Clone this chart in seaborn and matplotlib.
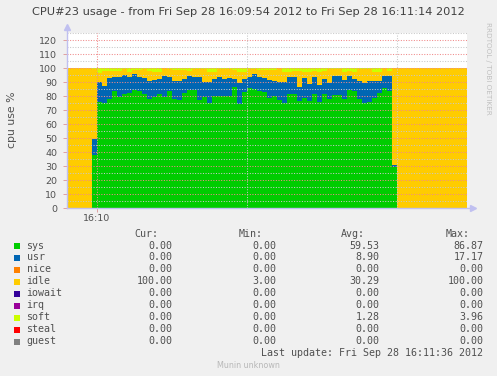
import numpy as np
import pandas as pd
import matplotlib
matplotlib.use("Agg")
import matplotlib.pyplot as plt
import seaborn as sns

# ---------------- data (one sample per second, 16:09:54 .. 16:11:13) ----------------
seconds = list(range(80))

sys_vals = [0, 0, 0, 0, 0,
            38.0, 75.7, 75.0, 78.0, 83.6, 79.0, 81.7, 82.0, 84.5, 83.6,
            81.4, 78.0, 79.0, 81.7, 79.5, 83.6, 78.0, 77.4, 82.0, 84.5,
            84.5, 77.4, 79.3, 75.2, 80.0, 80.2, 80.2, 80.2, 86.4, 74.5,
            83.0, 85.5, 85.0, 83.8, 82.6, 78.8, 80.2, 77.4, 75.2, 81.7,
            81.7, 76.6, 78.8, 76.6, 81.7, 75.9, 81.7, 78.1, 80.7, 80.7,
            78.1, 84.3, 83.6, 78.1, 75.2, 75.9, 78.8, 82.1, 85.7, 83.8,
            29.0,
            0, 0, 0, 0, 0, 0, 0, 0, 0, 0, 0, 0, 0, 0]

usr_vals = [0, 0, 0, 0, 0,
            11.3, 14.3, 12.4, 14.6, 9.7, 14.3, 13.5, 11.3, 11.0, 10.2,
            11.7, 12.7, 12.4, 10.2, 14.8, 10.2, 12.7, 13.3, 9.9, 9.8,
            9.3, 16.4, 10.7, 14.8, 11.9, 13.4, 11.7, 12.7, 5.5, 14.8,
            8.9, 8.3, 10.5, 9.5, 10.0, 12.6, 10.5, 12.4, 14.6, 11.6,
            11.6, 10.1, 13.8, 12.0, 11.6, 12.0, 10.2, 11.4, 13.6, 13.6,
            13.3, 10.0, 8.3, 12.8, 14.3, 14.8, 11.9, 8.6, 8.6, 10.5,
            2.0,
            0, 0, 0, 0, 0, 0, 0, 0, 0, 0, 0, 0, 0, 0]

idle_vals = [100, 100, 100, 100, 100,
             49.7, 6.5, 10.2, 5.4, 4.7, 4.7, 3.8, 3.7, 3.0, 5.0,
             5.9, 7.1, 5.6, 5.1, 5.7, 5.2, 7.8, 7.8, 6.6, 3.7,
             5.2, 5.2, 9.0, 7.0, 5.1, 5.4, 7.1, 6.1, 6.9, 7.7,
             5.6, 5.2, 3.7, 5.2, 5.9, 7.1, 7.8, 10.2, 7.7, 4.2,
             4.7, 11.3, 4.4, 8.4, 4.7, 9.6, 6.1, 9.5, 4.7, 4.7,
             5.6, 3.3, 5.1, 8.1, 9.5, 8.3, 6.8, 6.8, 5.7, 3.7,
             69.0,
             100, 100, 100, 100, 100, 100, 100, 100, 100, 100, 100, 100, 100, 100]

soft_vals = [0, 0, 0, 0, 0,
             1.0, 3.5, 2.4, 2.0, 2.0, 2.0, 1.0, 3.0, 1.5, 1.2,
             1.0, 2.2, 3.0, 3.0, 0.0, 1.0, 1.5, 1.5, 1.5, 2.0,
             1.0, 1.0, 1.0, 3.0, 3.0, 1.0, 1.0, 1.0, 1.2, 3.0,
             2.5, 1.0, 0.8, 1.5, 1.5, 1.5, 1.5, 0.0, 2.5, 2.5,
             2.0, 2.0, 3.0, 3.0, 2.0, 2.5, 2.0, 1.0, 1.0, 1.0,
             3.0, 2.4, 3.0, 1.0, 1.0, 1.0, 2.5, 2.5, 0.0, 2.0,
             0.0,
             0, 0, 0, 0, 0, 0, 0, 0, 0, 0, 0, 0, 0, 0]

series_names = ["sys", "usr", "nice", "idle", "iowait", "irq", "soft", "steal", "guest"]
series_colors = ["#00CC00", "#0066B3", "#FF8000", "#FFCC00", "#330099",
                 "#990099", "#CCFF00", "#FF0000", "#808080"]
cur_vals = ["0.00", "0.00", "0.00", "100.00", "0.00", "0.00", "0.00", "0.00", "0.00"]
min_vals = ["0.00", "0.00", "0.00", "3.00", "0.00", "0.00", "0.00", "0.00", "0.00"]
avg_vals = ["59.53", "8.90", "0.00", "30.29", "0.00", "0.00", "1.28", "0.00", "0.00"]
max_vals = ["86.87", "17.17", "0.00", "100.00", "0.00", "0.00", "3.96", "0.00", "0.00"]

y_ticks = list(range(0, 121, 10))
x_tick_pos = [6]
x_tick_labels = ["16:10"]

title = "CPU#23 usage - from Fri Sep 28 16:09:54 2012 to Fri Sep 28 16:11:14 2012"

# ---------------- build long table ----------------
stack = {"sys": sys_vals, "usr": usr_vals, "idle": idle_vals, "soft": soft_vals}
rows = []
for name, vals in stack.items():
    for s, v in zip(seconds, vals):
        rows.append({"t": s + 0.5, "series": name, "value": float(v)})
df = pd.DataFrame(rows)
palette = dict(zip(series_names, series_colors))

# ---------------- figure ----------------
W, H = 497, 376
fig = plt.figure(figsize=(W / 100, H / 100), dpi=100)
fig.patch.set_facecolor("#F0F0F0")

def fx(px):
    return px / W

def fy(py):
    return 1 - py / H

ax = fig.add_axes([fx(67), fy(208), 400 / W, 175 / H])
ax.set_facecolor("white")

sns.histplot(data=df, x="t", weights="value", hue="series",
             hue_order=["soft", "idle", "usr", "sys"],
             multiple="stack", element="step", binwidth=1, binrange=(0, 80),
             palette=palette, alpha=1, linewidth=0, legend=False, ax=ax)

ax.set_xlim(0, 80)
ax.set_ylim(0, 125)

# grid on top
for v in range(5, 126, 10):
    ax.axhline(v, color="#C8C8C8", lw=0.75, ls=(0, (1, 1.5)), zorder=3)
for v in range(10, 121, 10):
    ax.axhline(v, color="#F08A8A", lw=0.75, ls=(0, (1, 1.5)), zorder=3)
ax.axvline(6, color="#F08A8A", lw=0.75, ls=(0, (1, 1.5)), zorder=3)
for v in (36, 66):
    ax.axvline(v, color="#C8C8C8", lw=0.75, ls=(0, (1, 1.5)), zorder=3)

for sp in ax.spines.values():
    sp.set_visible(False)

ax.set_yticks(y_ticks)
ax.set_yticklabels([str(v) for v in y_ticks])
ax.set_xticks(x_tick_pos)
ax.set_xticklabels(x_tick_labels)
ax.tick_params(axis="y", length=3, width=0.7, color="#E0A0A0", pad=4,
               labelsize=6.8, labelcolor="#505050")
ax.tick_params(axis="x", length=3, width=0.7, color="#E0A0A0", pad=1,
               labelsize=6.8, labelcolor="#505050")
ax.set_xlabel("")
ax.set_ylabel("")

# axis lines with arrows
axis_col = "#C0C0F0"
ax.plot([0, 0], [0, 1.035], transform=ax.transAxes, color=axis_col, lw=1,
        clip_on=False, zorder=4)
ax.plot([0], [1.035], transform=ax.transAxes, marker="^", color=axis_col,
        markersize=4, clip_on=False, zorder=4)
ax.plot([0, 1.015], [0, 0], transform=ax.transAxes, color=axis_col, lw=1,
        clip_on=False, zorder=4)
ax.plot([1.015], [0], transform=ax.transAxes, marker=">", color=axis_col,
        markersize=4, clip_on=False, zorder=4)

# texts
txt_col = "#505050"
fig.text(fx(248), fy(12), title, ha="center", va="center", fontsize=8.2,
         color="#404040", family="DejaVu Sans")
fig.text(fx(12), fy(120), "cpu use %", rotation=90, ha="center", va="center",
         fontsize=7.8, color=txt_col, family="DejaVu Sans")
fig.text(fx(488), fy(22), "RRDTOOL / TOBI OETIKER", rotation=270, ha="center",
         va="top", fontsize=5.2, color="#C0C0C0", family="DejaVu Sans")

mono = "DejaVu Sans Mono"
fs = 7.2
header_y = 234
col_right = [172.3, 276.3, 379.3, 483.3]
headers = ["Cur:", "Min:", "Avg:", "Max:"]
for hx, htxt in zip(col_right, headers):
    fig.text(fx(hx - 14), fy(header_y), htxt, ha="right", va="center",
             fontsize=fs, color=txt_col, family=mono)

row0, dy = 245.5, 12
for i, name in enumerate(series_names):
    yy = row0 + i * dy
    fig.patches.append(plt.Rectangle((fx(14), fy(yy + 3)), 6 / W, 6 / H,
                                     transform=fig.transFigure,
                                     facecolor=series_colors[i], edgecolor="none"))
    fig.text(fx(26.5), fy(yy), name, ha="left", va="center", fontsize=fs,
             color=txt_col, family=mono)
    for cx, vals in zip(col_right, [cur_vals, min_vals, avg_vals, max_vals]):
        fig.text(fx(cx), fy(yy), vals[i], ha="right", va="center",
                 fontsize=fs, color=txt_col, family=mono)

fig.text(fx(483.3), fy(353.5), "Last update: Fri Sep 28 16:11:36 2012",
         ha="right", va="center", fontsize=fs, color=txt_col, family=mono)
fig.text(fx(248.5), fy(365), "Munin unknown", ha="center", va="center",
         fontsize=5.8, color="#B8B8B8", family="DejaVu Sans")

fig.savefig("out.png", dpi=100, facecolor=fig.get_facecolor())
